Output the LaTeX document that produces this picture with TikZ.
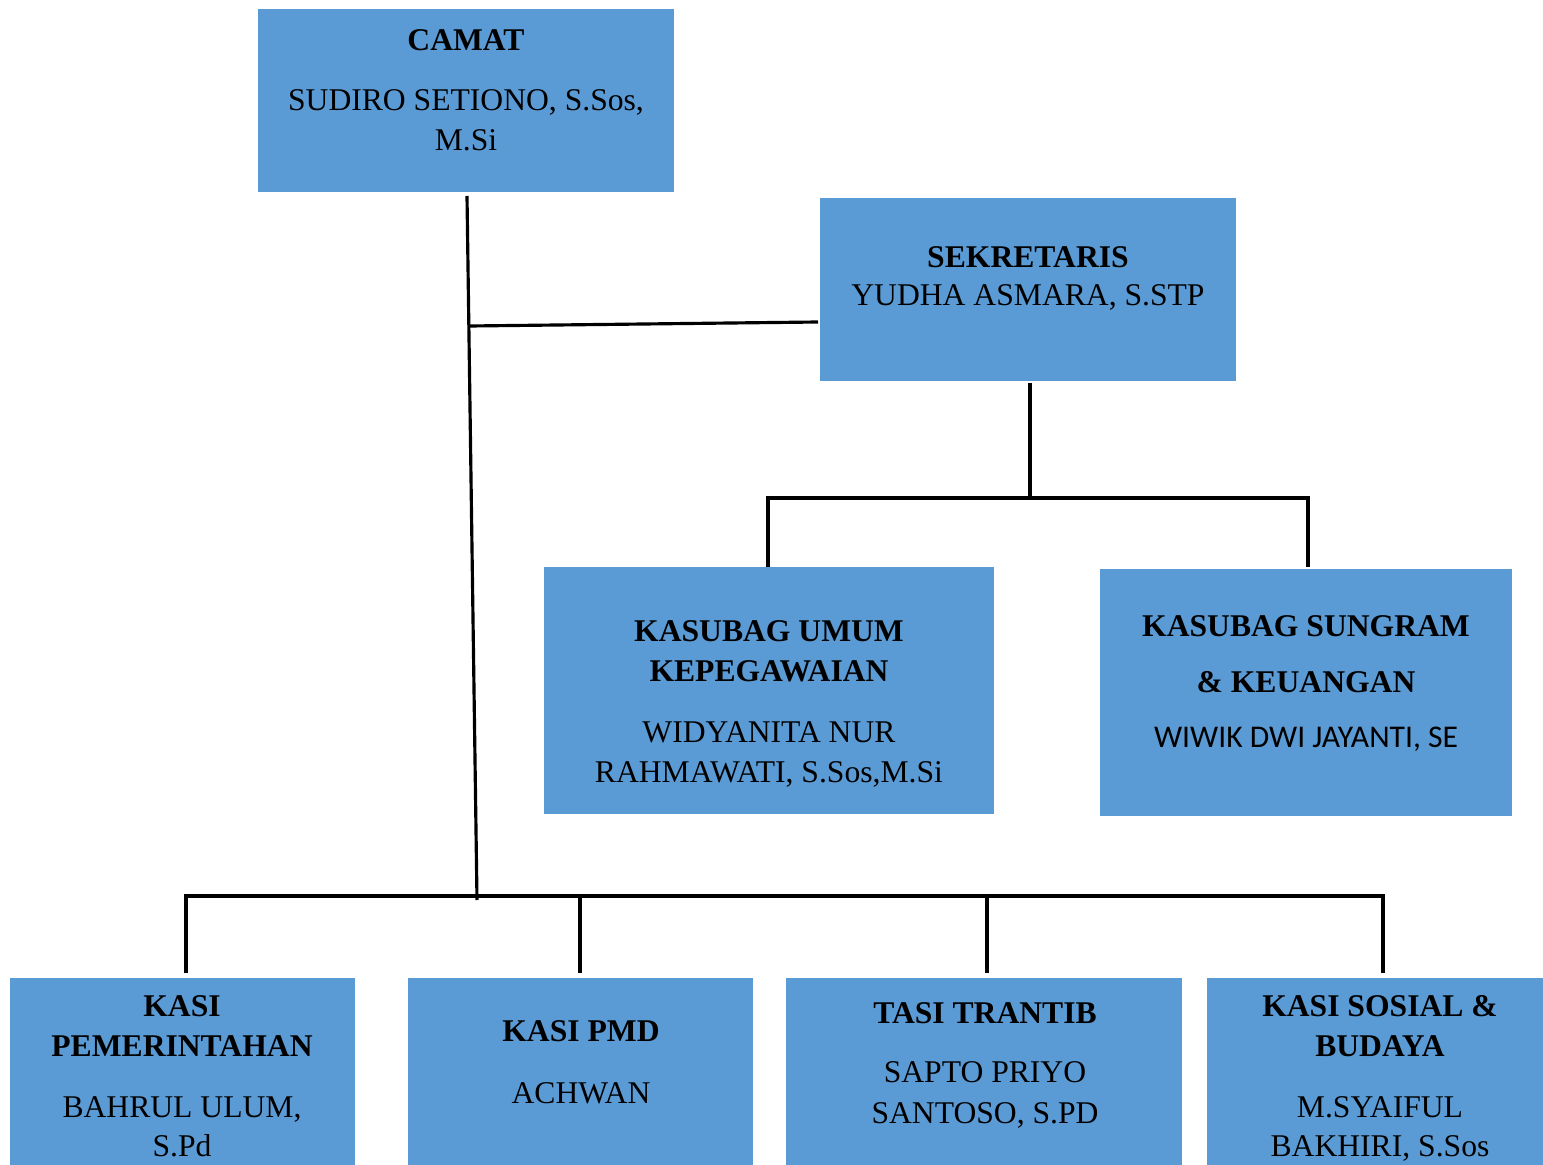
\documentclass[tikz,border=0pt]{standalone}
\usepackage{fontspec}
\setmainfont{Liberation Serif}
\newfontfamily\calibrifont{Carlito}
\usetikzlibrary{positioning}
\definecolor{orgblue}{RGB}{91,155,213}
\tikzset{
  orgbox/.style={rectangle, fill=orgblue, inner sep=0pt},
  orgtitle/.style={anchor=base, inner sep=0pt, font=\fontsize{18}{22}\selectfont\bfseries},
  orgname/.style={anchor=base, inner sep=0pt, font=\fontsize{18}{22}\selectfont},
  orgline/.style={line width=1.8pt, black},
}
\begin{document}
\begin{tikzpicture}[x=0.02cm, y=-0.02cm]
  \useasboundingbox (0,0) rectangle (1543,1165);
  \clip (0,0) rectangle (1543,1165);

  % --- boxes ----------------------------------------------------------------
  \node[orgbox, minimum width=8.32cm, minimum height=3.66cm] (camat)   at (466,100.5) {};
  \node[orgbox, minimum width=8.32cm, minimum height=3.66cm] (sekre)   at (1028,289.5) {};
  \node[orgbox, minimum width=9.00cm, minimum height=4.94cm] (umum)    at (769,690.5) {};
  \node[orgbox, minimum width=8.24cm, minimum height=4.94cm] (sungram) at (1306,692.5) {};
  \node[orgbox, minimum width=6.90cm, minimum height=4.44cm] (pemer)   at (182.5,1089) {};
  \node[orgbox, minimum width=6.90cm, minimum height=4.44cm] (pmd)     at (580.5,1089) {};
  \node[orgbox, minimum width=7.92cm, minimum height=4.44cm] (trantib) at (984,1089) {};
  \node[orgbox, minimum width=6.86cm, minimum height=4.44cm] (sosial)  at (1378.5,1089) {};

  % --- texts ----------------------------------------------------------------
  \node[orgtitle] (camatT)  at (466,51)  {CAMAT};
  \node[orgname]  (camatN1) at (466,111) {SUDIRO SETIONO, S.Sos,};
  \node[orgname]  (camatN2) at (466,151) {M.Si};

  \node[orgtitle] (sekreT)  at (1028,268) {SEKRETARIS};
  \node[orgname]  (sekreN)  at (1028,306) {YUDHA ASMARA, S.STP};

  \node[orgtitle] (umumT1)  at (769,642) {KASUBAG UMUM};
  \node[orgtitle] (umumT2)  at (769,682) {KEPEGAWAIAN};
  \node[orgname]  (umumN1)  at (769,743) {WIDYANITA NUR};
  \node[orgname]  (umumN2)  at (769,783) {RAHMAWATI, S.Sos,M.Si};

  \node[orgtitle] (sungT1)  at (1306,637) {KASUBAG SUNGRAM};
  \node[orgtitle] (sungT2)  at (1306,693) {\& KEUANGAN};
  \node[orgname, font=\fontsize{18}{22}\selectfont\calibrifont]
                  (sungN)   at (1306,748) {WIWIK DWI JAYANTI, SE};

  \node[orgtitle] (pemerT1) at (182,1016) {KASI};
  \node[orgtitle] (pemerT2) at (182,1056) {PEMERINTAHAN};
  \node[orgname]  (pemerN1) at (182,1117) {BAHRUL ULUM,};
  \node[orgname]  (pemerN2) at (182,1156) {S.Pd};

  \node[orgtitle] (pmdT)    at (581,1041) {KASI PMD};
  \node[orgname]  (pmdN)    at (581,1103) {ACHWAN};

  \node[orgtitle] (tranT)   at (985,1023) {TASI TRANTIB};
  \node[orgname]  (tranN1)  at (985,1082) {SAPTO PRIYO};
  \node[orgname]  (tranN2)  at (985,1123) {SANTOSO, S.PD};

  \node[orgtitle] (sosT1)   at (1380,1016) {KASI SOSIAL \&};
  \node[orgtitle] (sosT2)   at (1380,1056) {BUDAYA};
  \node[orgname]  (sosN1)   at (1380,1117) {M.SYAIFUL};
  \node[orgname]  (sosN2)   at (1380,1156) {BAKHIRI, S.Sos};

  % --- junctions ------------------------------------------------------------
  \coordinate (camatStem) at (467,196);
  \coordinate (sekreJoin) at (470,326);
  \coordinate (sekreIn)   at (818,322);
  \coordinate (stemEnd)   at (477,900);
  \coordinate (sekreOut)  at (1030,383);
  \coordinate (sekreFork) at (1030,498);
  \coordinate (umumIn)    at (768,567);
  \coordinate (sungIn)    at (1308,567);
  \coordinate (busLeft)   at (186,896);
  \coordinate (pemerIn)   at (186,973);
  \coordinate (pmdIn)     at (580,973);
  \coordinate (tranIn)    at (987,973);
  \coordinate (sosIn)     at (1383,973);

  % --- connectors -----------------------------------------------------------
  \draw[orgline] (camatStem) -- (stemEnd);
  \draw[orgline] (sekreJoin) -- (sekreIn);
  \draw[orgline] (sekreOut) -- (sekreFork);
  \draw[orgline] (umumIn) |- (sekreFork) -| (sungIn);
  \draw[orgline] (pemerIn) -- (busLeft) -| (sosIn);
  \draw[orgline] (pmdIn) -- (pmdIn |- busLeft);
  \draw[orgline] (tranIn) -- (tranIn |- busLeft);
\end{tikzpicture}
\end{document}
